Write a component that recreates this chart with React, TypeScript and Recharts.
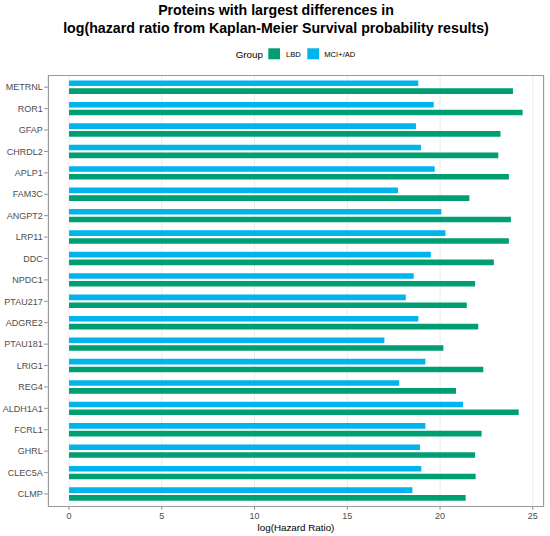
import { Bar, BarChart, CartesianGrid, XAxis, YAxis } from "recharts";

const proteins = [
  "METRNL", "ROR1", "GFAP", "CHRDL2", "APLP1", "FAM3C", "ANGPT2", "LRP11", "DDC", "NPDC1",
  "PTAU217", "ADGRE2", "PTAU181", "LRIG1", "REG4", "ALDH1A1", "FCRL1", "GHRL", "CLEC5A", "CLMP",
];
const lbd = [
  23.93, 24.45, 23.26, 23.14, 23.71, 21.58, 23.82, 23.71, 22.9, 21.89,
  21.44, 22.06, 20.18, 22.33, 20.86, 24.24, 22.24, 21.89, 21.92, 21.38,
];
const mciAd = [
  18.83, 19.66, 18.7, 18.97, 19.71, 17.73, 20.07, 20.29, 19.5, 18.58,
  18.15, 18.83, 17.0, 19.21, 17.8, 21.24, 19.21, 18.92, 18.99, 18.51,
];
const xTicks = [0, 5, 10, 15, 20, 25];

const GREEN = "#009E73";
const BLUE = "#00B4EC";
const FONT = "'Liberation Sans', Arial, sans-serif";

const data = proteins.map((name, i) => ({ name, lbd: lbd[i], mci: mciAd[i] }));

export default function App() {
  return (
    <div style={{ position: "absolute", left: 0, top: 0, width: 550, height: 536, background: "#fff", fontFamily: FONT }}>
      <BarChart
        width={550}
        height={536}
        data={data}
        layout="vertical"
        margin={{ top: 74.5, right: 5.7, bottom: 0, left: 0 }}
        barSize={5.6}
        barGap={2.2}
      >
        <CartesianGrid horizontal={false} stroke="#ebebeb" />
        <XAxis
          type="number"
          domain={[-1.15, 25.62]}
          ticks={xTicks}
          allowDataOverflow
          height={29.3}
          axisLine={false}
          tickLine={{ stroke: "#8a8a8a" }}
          tickSize={3}
          tickMargin={3.2}
          tick={{ fill: "#4d4d4d", fontSize: 9, fontFamily: FONT }}
        />
        <YAxis
          type="category"
          dataKey="name"
          width={47.7}
          padding={{ top: 2, bottom: 2 }}
          axisLine={false}
          tickLine={{ stroke: "#8a8a8a" }}
          tickSize={3.5}
          tickMargin={1.5}
          interval={0}
          tick={{ fill: "#4d4d4d", fontSize: 9, fontFamily: FONT }}
        />
        <Bar dataKey="mci" name="MCI+/AD" fill={BLUE} isAnimationActive={false} />
        <Bar dataKey="lbd" name="LBD" fill={GREEN} isAnimationActive={false} />
      </BarChart>

      <div
        style={{
          position: "absolute",
          left: 47.7,
          top: 74.5,
          width: 544.3 - 47.7,
          height: 506.7 - 74.5,
          boxSizing: "border-box",
          border: "1px solid #9a9a9a",
          pointerEvents: "none",
        }}
      />

      <svg width={550} height={536} style={{ position: "absolute", left: 0, top: 0, pointerEvents: "none" }}>
        <g fontFamily={FONT} textAnchor="middle" fontWeight="bold" fontSize={14.2} fill="#000">
          <text x={276} y={15}>Proteins with largest differences in</text>
          <text x={276} y={32.5}>log(hazard ratio from Kaplan-Meier Survival probability results)</text>
        </g>
        <g fontFamily={FONT} fill="#000">
          <text x={235.7} y={57.5} fontSize={9.8}>Group</text>
          <rect x={268.3} y={48.3} width={11.7} height={11} fill={GREEN} />
          <text x={286} y={57} fontSize={7.6}>LBD</text>
          <rect x={307.3} y={48.3} width={11.7} height={11} fill={BLUE} />
          <text x={324.3} y={57} fontSize={7.6}>MCI+/AD</text>
          <text x={296} y={530.5} fontSize={9.8} textAnchor="middle">log(Hazard Ratio)</text>
        </g>
      </svg>
    </div>
  );
}
